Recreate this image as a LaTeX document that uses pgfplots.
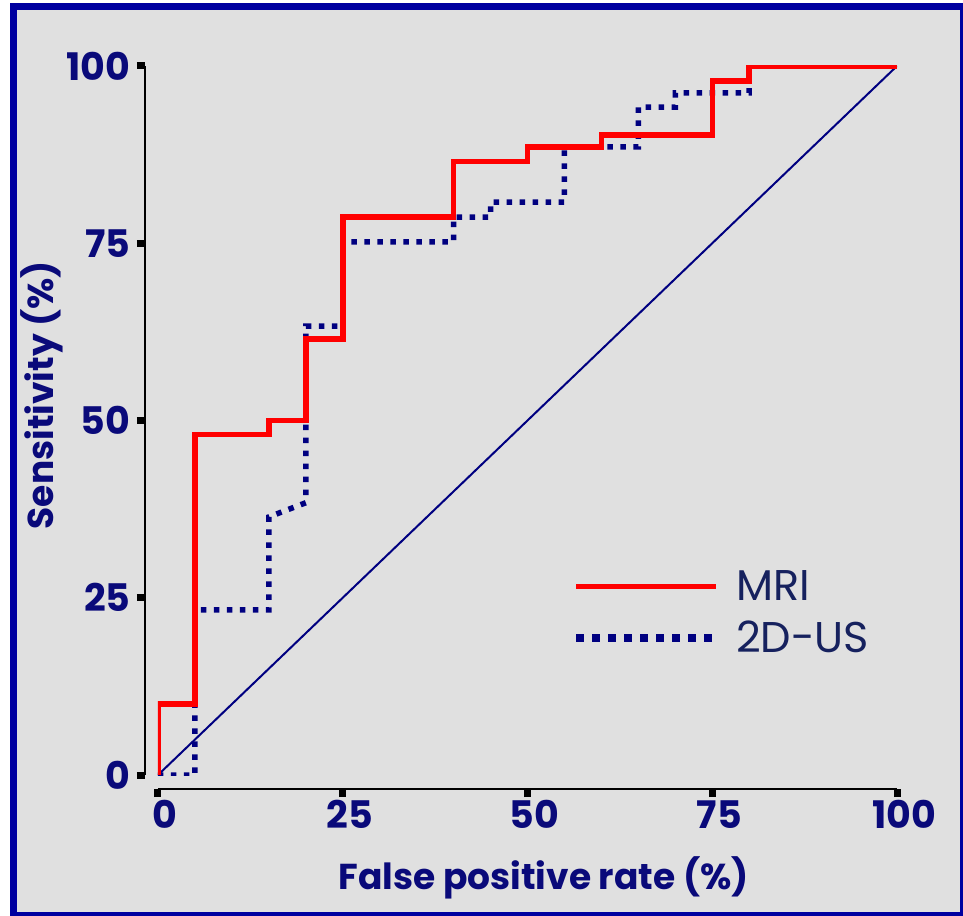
\documentclass[border=0pt]{standalone}
\usepackage{pgfplots}
\pgfplotsset{compat=1.18}
\usepackage{fontspec}
\setmainfont{Poppins}

\definecolor{navytext}{HTML}{0A0A7A}
\definecolor{legendtext}{HTML}{16215E}
\definecolor{framecol}{HTML}{0000A0}
\definecolor{panel}{HTML}{E0E0E0}
\definecolor{usblue}{HTML}{000080}
\definecolor{mrired}{HTML}{FF0000}

% ROC steps: false positive rate (%) vs sensitivity (%)
\pgfplotstableread{
fpr sens
0   0
0   10
5   10
5   48
15  48
15  50
20  50
20  61.5
25  61.5
25  78.7
40  78.7
40  86.5
50  86.5
50  88.6
60  88.6
60  90.3
75  90.3
75  97.9
80  97.9
80  100
100 100
}\mri

\pgfplotstableread{
fpr sens
0   0
5   0
5   23.3
15  23.3
15  36.4
20  38.4
20  63.3
25  63.3
25  75.2
40  75.2
40  78.7
45  78.7
45  80.8
55  80.8
55  88.6
65  88.6
65  94.2
70  94.2
70  96.2
80  96.2
80  100
100 100
}\twodus

\begin{document}
\begin{tikzpicture}
\useasboundingbox (-158pt,-140pt) rectangle (805pt,775pt);
\fill[panel] (-144.5pt,-140.5pt) rectangle (805.5pt,768.5pt);
\draw[framecol, line width=7pt] (-144.5pt,-140.5pt) rectangle (805.5pt,768.5pt);
\begin{axis}[
  at={(0pt,0pt)}, anchor=south west,
  scale only axis,
  width=739pt, height=709pt,
  xmin=0, xmax=100, ymin=0, ymax=100,
  axis x line=bottom, axis y line=left,
  axis x line shift=14pt, axis y line shift=13pt,
  axis line style={-, black, line width=2.8pt},
  xtick={0,25,50,75,100}, ytick={0,25,50,75,100},
  tick align=outside,
  major tick length=8pt,
  tick style={black, line width=7pt},
  /pgf/number format/assume math mode=true,
  ticklabel style={font=\fontsize{38}{44}\selectfont\bfseries, text=navytext},
  xticklabel style={xshift=7pt},
  yticklabel style={xshift=-3pt},
  xlabel={False positive rate (\%)},
  ylabel={Sensitivity (\%)},
  label style={font=\fontsize{36}{42}\selectfont\bfseries, text=navytext},
  xlabel style={at={(axis cs:52.2,-14.5)}, anchor=center},
  ylabel style={at={(axis cs:-15.7,53.6)}, anchor=center},
  reverse legend,
  legend style={draw=none, fill=none, inner sep=0pt,
    at={(axis cs:56.0,22.9)}, anchor=west,
    font=\fontsize{43}{47}\selectfont, text=legendtext,
    row sep=15pt,
    /tikz/every odd column/.append style={column sep=14pt}},
  legend cell align=left,
]
\addplot[usblue, line width=2pt, forget plot] coordinates {(0,0) (100,100)};
\addplot[usblue, line width=5.5pt, dash pattern=on 5.5pt off 7.5pt,
  legend image code/.code={\draw[usblue, line width=8pt, dash pattern=on 8pt off 8pt] (0pt,0pt) -- (140pt,0pt);}]
  table[x=fpr, y=sens] {\twodus};
\addlegendentry{2D-US}
\addplot[mrired, line width=5.5pt,
  legend image code/.code={\draw[mrired, line width=5.5pt] (0pt,0pt) -- (140pt,0pt);}]
  table[x=fpr, y=sens] {\mri};
\addlegendentry{MRI}
\end{axis}
\end{tikzpicture}
\end{document}
